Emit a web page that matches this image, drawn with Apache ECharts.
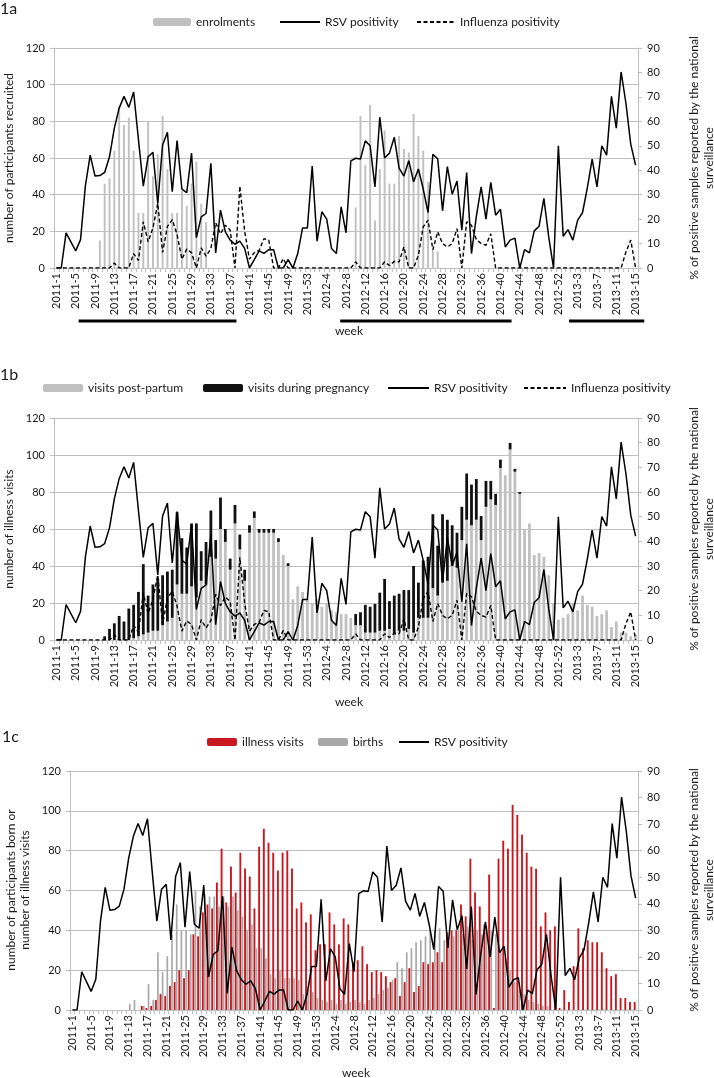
<!DOCTYPE html>
<html><head><meta charset="utf-8">
<script src="https://cdn.jsdelivr.net/npm/echarts@6/dist/echarts.min.js"></script>
<style>html,body{margin:0;padding:0;background:#fff}#c{width:714px;height:1078px}</style>
</head><body><div id="c"></div>
<script>
const weeks = ["2011-1","2011-2","2011-3","2011-4","2011-5","2011-6","2011-7","2011-8","2011-9","2011-10","2011-11","2011-12","2011-13","2011-14","2011-15","2011-16","2011-17","2011-18","2011-19","2011-20","2011-21","2011-22","2011-23","2011-24","2011-25","2011-26","2011-27","2011-28","2011-29","2011-30","2011-31","2011-32","2011-33","2011-34","2011-35","2011-36","2011-37","2011-38","2011-39","2011-40","2011-41","2011-42","2011-43","2011-44","2011-45","2011-46","2011-47","2011-48","2011-49","2011-50","2011-51","2011-52","2011-53",
"2012-1","2012-2","2012-3","2012-4","2012-5","2012-6","2012-7","2012-8","2012-9","2012-10","2012-11","2012-12","2012-13","2012-14","2012-15","2012-16","2012-17","2012-18","2012-19","2012-20","2012-21","2012-22","2012-23","2012-24","2012-25","2012-26","2012-27","2012-28","2012-29","2012-30","2012-31","2012-32","2012-33","2012-34","2012-35","2012-36","2012-37","2012-38","2012-39","2012-40","2012-41","2012-42","2012-43","2012-44","2012-45","2012-46","2012-47","2012-48","2012-49","2012-50","2012-51","2012-52","2012-53",
"2013-1","2013-2","2013-3","2013-4","2013-5","2013-6","2013-7","2013-8","2013-9","2013-10","2013-11","2013-12","2013-13","2013-14","2013-15"];

// RSV positivity (% , right axis) – same in all panels
const rsvPositivity = [0,0,14.4,10.7,7,11.6,33.6,46.2,37.6,37.8,
39.1,45.5,57.2,65.4,70.2,65.7,72,52.4,33.5,45.5,
47.3,26.4,50.3,55.5,31.2,52.1,32.3,30.8,47,12.4,
20.9,22.3,42.8,6.2,23.7,14.8,11.4,9.7,11,8,
0,3.4,7,6,7.5,7.5,0,0,3.4,0,
5.9,16.4,16.4,41.7,11,23,20,8,5.9,25,
14.4,43.8,44.9,44.6,52,50,33.2,61.7,45,47,
53.5,40.9,37.6,43.9,35.3,40.5,32.3,22.7,46.5,44.7,
23.4,41.5,30.2,35.6,15.5,39,5.9,21,33.2,20,
35,21.6,24,8.6,11.4,12.2,0,7.5,6.2,15.2,
17.1,28.5,12.7,0,50,13,15.7,11.4,19.6,22.6,
32.8,44.5,33.2,50,46.2,70.2,57.2,80.2,67.4,50.6,
42.1];

// Influenza positivity (%, right axis)
const fluPositivity = [0,0,0,0,0,0,0,0,0,0,
0,0,2,0,0,0,5.9,3.1,18.9,10.7,
16.4,26.4,6.4,17,19.8,13.7,3.6,7.7,6.3,0,
8.2,4.9,7.9,18.5,14,17.5,15.5,0,33.5,15,
3.6,6.3,7.2,12,11.4,0,0,3.8,0,0,
0,0,0,0,0,0,0,0,0,0,
0,0,2.5,0,0,0,0,0,2.5,1,
2.7,2.5,8.6,0,0,5.2,16.8,19.6,7.5,14.8,
10,8.6,10,16.1,0,18.9,17.5,11.6,10,9.3,
14,0,0,0,0,0,0,0,0,0,
0,0,0,0,0,0,0,0,0,0,
0,0,0,0,0,0,0,0,6.6,11.4,
0];

// 1a enrolments
const enrolments = [0,0,0,0,0,0,0,0,0,15,
46,49,64,88,78,82,64,30,30,80,
50,62,83,54,30,30,42,34,46,58,
35,25,0,0,0,0,0,0,0,0,
0,0,0,0,0,0,0,0,0,0,
0,0,0,0,0,0,0,0,0,0,
0,0,33,83,56,89,26,54,75,46,
46,72,65,63,84,72,64,47,10,9,
0,0,0,0,0,0,0,0,0,0,
0,0,0,0,0,0,0,0,0,0,
0,0,0,0,0,0,0,0,0,0,
0,0,0,0,0,0,0,0,0,0,
0];

// 1b visits post-partum
const visitsPostPartum = [0,0,0,0,0,0,0,0,0,0,
0,0,0,0,0,0,1,2,3,4,
5,5,8,10,12,30,25,25,29,23,
32,30,45,44,60,53,38,63,49,32,
58,66,58,58,58,58,53,46,40,22,
29,26,22,20,22,18,20,16,15,14,
14,12,8,8,4,4,4,5,5,6,
3,5,5,6,4,12,12,12,28,24,
31,32,40,39,54,65,62,65,54,72,
76,73,93,89,103,91,79,60,63,46,
47,45,35,20,11,12,14,20,16,24,
19,18,13,14,16,7,10,4,4,2,
3];

// 1b visits during pregnancy
const visitsPregnancy = [0,0,0,0,0,0,0,0,0,0,
2,6,9,13,10,17,18,24,38,20,
25,28,27,27,26,39,30,25,34,40,
16,23,25,10,17,7,6,10,8,6,
4,3.5,2,2,2,2,2,0,1.5,0,
0,0,0,0,0,0,0,0,0,0,
0,0,6,7,15,14,15.5,20.6,28,15,
21,20,22,21,36,19,31,33,40,27,
37,33,22,19,18,25,22,22,13,14,
10,6,4.5,0,3.5,1.5,1,0,0,0,
0,0,0,0,0,0,0,0,0,0,
0,0,0,0,0,0,0,0,0,0,
0];

// 1c illness visits
const illnessVisits = [0,0,0,0,0,0,0,0,0,0,
0,0,0,0,0,2,1,2,5,8,
7,12,14,20,16,20,38,37,49,53,
51,64,81,54,72,59,79,71,67,51,
82,91,84,79,70,79,80,71,51,54,
44,48,30,33,33,49,43,33,46,43,
24,25,32,23,19,20,19,17,14,16,
7,14,21,9,12,24,23,24,29,24,
39,40,40,53,47,76,59,52,43,68,
1,76,85,81,103,98,88,79,72,71,
42,49,40,42,1,10,4,22,41,31,
35,34,34,29,21,17,18,6,6,4,
4];

// 1c births
const births = [0,0,0,0,0,0,0,0,0,0,
0,0,3,5,0,2,13,5,29,19,
27,38,53,40,40,38,60,52,58,57,
57,52,57,52,57,50,47,40,43,31,
31,26,18,16,20,16,16,16,15,8,
10,9,6,5,4,5,3,5,3,4,
5,4,3,5,6,8,10,11,15,24,
21,29,31,34,35,37,40,40,41,35,
34,37,40,38,42,35,40,38,42,40,
38,30,26,20,14,10,8,5,4,3,
2,2,0,0,0,0,0,0,0,0,
0,0,0,0,0,0,0,0,0,0,
0];

// season bars under panel 1a (category index ranges)
const seasonStart = [4.6, 58.8, 106.2];
const seasonEnd = [37.3, 94.3, 121.8];

const FONT = 'Lato';
const TXT = '#1a1a1a';
const GRID_C = '#bfbfbf';

const chart = echarts.init(document.getElementById('c'), null, {renderer: 'canvas'});

const grids = [
  {left: 54, right: 76, top: 48, height: 220},
  {left: 54, right: 76, top: 418, height: 222},
  {left: 70, right: 76, top: 771, height: 239}
];

function xAx(gi) {
  return {
    type: 'category', gridIndex: gi, data: weeks, boundaryGap: true,
    axisLine: {lineStyle: {color: GRID_C, width: 1}},
    axisTick: {show: true, interval: 0, length: 4, lineStyle: {color: GRID_C}},
    axisLabel: {interval: 3, rotate: 90, fontSize: 11, color: TXT, fontFamily: FONT, margin: 5}
  };
}
function yLeft(gi) {
  return {
    type: 'value', gridIndex: gi, min: 0, max: 120, interval: 20, position: 'left',
    axisLine: {show: true, lineStyle: {color: GRID_C}},
    axisTick: {show: true, length: 4, lineStyle: {color: GRID_C}},
    splitLine: {show: true, lineStyle: {color: GRID_C, width: 1}},
    axisLabel: {fontSize: 11, color: TXT, fontFamily: FONT, margin: 9}
  };
}
function yRight(gi) {
  return {
    type: 'value', gridIndex: gi, min: 0, max: 90, interval: 10, position: 'right',
    axisLine: {show: true, lineStyle: {color: GRID_C}},
    axisTick: {show: true, length: 4, lineStyle: {color: GRID_C}},
    splitLine: {show: false},
    axisLabel: {fontSize: 11, color: TXT, fontFamily: FONT, margin: 9}
  };
}

function rsvLine(xi, yi) {
  return {name: 'RSV positivity', type: 'line', xAxisIndex: xi, yAxisIndex: yi, data: rsvPositivity,
    symbol: 'none', showSymbol: false, z: 5, lineStyle: {color: '#000', width: 1.5}, itemStyle: {color: '#000'}};
}
function fluLine(xi, yi) {
  return {name: 'Influenza positivity', type: 'line', xAxisIndex: xi, yAxisIndex: yi, data: fluPositivity,
    symbol: 'none', showSymbol: false, z: 4, lineStyle: {color: '#000', width: 1.4, type: [4, 2.5]}, itemStyle: {color: '#000'}};
}

function leg(name, left, cy, w, isLine) {
  const l = {
    data: [name], left: left, top: cy - 7, itemWidth: w, itemHeight: 8, itemGap: 0,
    selectedMode: false, padding: 0,
    textStyle: {fontSize: 12, color: TXT, fontFamily: FONT, padding: [0, 0, 0, 0]}
  };
  if (isLine) {
    l.itemStyle = {opacity: 0, borderWidth: 0};
  }
  return l;
}

const option = {
  animation: false,
  backgroundColor: '#fff',
  textStyle: {fontFamily: FONT},
  grid: grids,
  xAxis: [xAx(0), xAx(1), xAx(2)],
  yAxis: [yLeft(0), yRight(0), yLeft(1), yRight(1), yLeft(2), yRight(2)],
  legend: [
    leg('enrolments', 153, 23, 38),
    leg('RSV positivity', 279, 23, 40, true),
    leg('Influenza positivity', 416, 23, 38, true),
    leg('visits post-partum', 43, 389, 40),
    leg('visits during pregnancy', 203, 389, 40),
    leg('RSV positivity', 387, 389, 41, true),
    leg('Influenza positivity', 523, 389, 42, true),
    leg('illness visits', 207, 743, 30),
    leg('births', 318, 743, 30),
    leg('RSV positivity', 398, 743, 30, true)
  ],
  series: [
    {name: 'enrolments', type: 'bar', xAxisIndex: 0, yAxisIndex: 0, data: enrolments,
      barWidth: '40%', itemStyle: {color: '#c0c0c0'}},
    rsvLine(0, 1), fluLine(0, 1),
    {name: 'visits post-partum', type: 'bar', stack: 'v', xAxisIndex: 1, yAxisIndex: 2, data: visitsPostPartum,
      barWidth: '58%', itemStyle: {color: '#c0c0c0'}},
    {name: 'visits during pregnancy', type: 'bar', stack: 'v', xAxisIndex: 1, yAxisIndex: 2, data: visitsPregnancy,
      barWidth: '58%', itemStyle: {color: '#111'}},
    rsvLine(1, 3), fluLine(1, 3),
    {name: 'illness visits', type: 'bar', xAxisIndex: 2, yAxisIndex: 4, data: illnessVisits,
      barWidth: '40%', barGap: '15%', itemStyle: {color: '#c8171e'}},
    {name: 'births', type: 'bar', xAxisIndex: 2, yAxisIndex: 4, data: births,
      barWidth: '36%', barGap: '15%', itemStyle: {color: '#a8a8a8'}},
    rsvLine(2, 5)
  ]
};
chart.setOption(option);

function vText(text, x, y, size) {
  return {type: 'text', x: x, y: y, rotation: Math.PI / 2,
    style: {text: text, fill: TXT, font: size + 'px ' + FONT, textAlign: 'center', textVerticalAlign: 'middle'}};
}
function hText(text, x, y, size, align) {
  return {type: 'text', x: x, y: y,
    style: {text: text, fill: TXT, font: size + 'px ' + FONT, textAlign: align || 'center', textVerticalAlign: 'middle'}};
}

const g = [];
g.push(hText('1a', 0, 9, 16, 'left'));
g.push(hText('1b', 0, 375, 16, 'left'));
g.push(hText('1c', 2, 737, 16, 'left'));
// left axis titles
g.push(vText('number of participants recruited', 9, 158, 12));
g.push(vText('number of illness visits', 9, 529, 12));
g.push(vText('number of participants born or', 11, 890, 12));
g.push(vText('number of illness visits', 25, 890, 12));
// right axis titles
const centers = [158, 529, 890];
centers.forEach(function (c) {
  g.push(vText('% of positive samples reported by the national', 694, c, 12));
  g.push(vText('surveillance', 709, c, 12));
});
// week labels
g.push(hText('week', 349, 331, 12));
g.push(hText('week', 349, 702, 12));
g.push(hText('week', 356, 1073, 12));
// season bars under panel 1a
const x0 = chart.convertToPixel({xAxisIndex: 0}, 0);
const x120 = chart.convertToPixel({xAxisIndex: 0}, 120);
const step = (x120 - x0) / 120;
for (let k = 0; k < seasonStart.length; k++) {
  g.push({type: 'line', shape: {x1: x0 + seasonStart[k] * step, y1: 321, x2: x0 + seasonEnd[k] * step, y2: 321},
    style: {stroke: '#000', lineWidth: 3}});
}
chart.setOption({graphic: g});
</script>
</body></html>
